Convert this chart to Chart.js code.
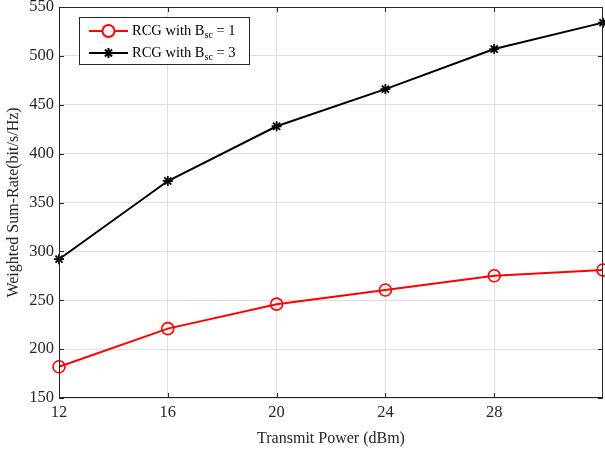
<!DOCTYPE html>
<html>
<head>
<meta charset="utf-8">
<script src="https://cdn.jsdelivr.net/npm/chart.js@4.4.1/dist/chart.umd.min.js"></script>
<style>
  html, body { margin: 0; padding: 0; background: #fff; }
  #wrap { width: 605px; height: 452px; }
</style>
</head>
<body>
<div id="wrap"><canvas id="rateChart" width="605" height="452"></canvas></div>
<script>
const powers = [12, 16, 20, 24, 28, 32];
const rateB1 = [182, 221, 246, 260.5, 275, 281];
const rateB3 = [292, 372, 428, 466, 507, 534];
const xTicks = [12, 16, 20, 24, 28];
const legendNames = ["RCG with B", "RCG with B"];
const legendSubs = ["sc", "sc"];
const legendTails = [" = 1", " = 3"];

const FONT = "'Liberation Serif', 'Times New Roman', serif";

// box, inward ticks and in-plot legend (MATLAB look)
const matlabFrame = {
  id: "matlabFrame",
  afterDraw(chart) {
    const { ctx, chartArea: a, scales } = chart;
    ctx.save();
    ctx.strokeStyle = "#262626";
    ctx.lineWidth = 1;
    ctx.strokeRect(a.left + 0.5, a.top + 0.5, a.right - a.left - 1, a.bottom - a.top - 1);
    const len = 5;
    ctx.beginPath();
    scales.x.ticks.forEach(t => {
      const px = Math.round(scales.x.getPixelForValue(t.value)) + 0.5;
      ctx.moveTo(px, a.bottom); ctx.lineTo(px, a.bottom - len);
      ctx.moveTo(px, a.top); ctx.lineTo(px, a.top + len);
    });
    scales.y.ticks.forEach(t => {
      const py = Math.round(scales.y.getPixelForValue(t.value)) + 0.5;
      ctx.moveTo(a.left, py); ctx.lineTo(a.left + len, py);
      ctx.moveTo(a.right, py); ctx.lineTo(a.right - len, py);
    });
    ctx.stroke();

    // legend
    const bx = a.left + 20, by = a.top + 10, bw = 170, bh = 47;
    ctx.fillStyle = "#fff";
    ctx.fillRect(bx, by, bw, bh);
    ctx.strokeStyle = "#262626";
    ctx.strokeRect(bx + 0.5, by + 0.5, bw, bh);
    chart.data.datasets.forEach((ds, i) => {
      const cy = by + 14 + i * 22;
      const x0 = bx + 10, x1 = bx + 49;
      ctx.strokeStyle = ds.borderColor;
      ctx.lineWidth = 2;
      ctx.beginPath(); ctx.moveTo(x0, cy); ctx.lineTo(x1, cy); ctx.stroke();
      Chart.helpers.drawPoint(ctx, {
        pointStyle: ds.pointStyle, radius: ds.pointRadius, borderWidth: ds.pointBorderWidth
      }, (x0 + x1) / 2, cy);
      ctx.fillStyle = "#000";
      ctx.textBaseline = "middle";
      ctx.font = "14.5px " + FONT;
      let tx = x1 + 4;
      ctx.fillText(legendNames[i], tx, cy);
      tx += ctx.measureText(legendNames[i]).width;
      ctx.font = "10px " + FONT;
      ctx.fillText(legendSubs[i], tx, cy + 4);
      tx += ctx.measureText(legendSubs[i]).width;
      ctx.font = "14.5px " + FONT;
      ctx.fillText(legendTails[i], tx, cy);
    });
    ctx.restore();
  }
};

const ctx = document.getElementById("rateChart");
new Chart(ctx, {
  type: "line",
  data: {
    datasets: [
      {
        label: "RCG with Bsc = 1",
        data: powers.map((p, i) => ({ x: p, y: rateB1[i] })),
        borderColor: "#ff0000",
        backgroundColor: "rgba(0,0,0,0)",
        borderWidth: 2,
        pointStyle: "circle",
        pointRadius: 6,
        pointBorderWidth: 1.6,
        pointBorderColor: "#ff0000",
        pointBackgroundColor: "rgba(0,0,0,0)",
        tension: 0,
        clip: 8
      },
      {
        label: "RCG with Bsc = 3",
        data: powers.map((p, i) => ({ x: p, y: rateB3[i] })),
        borderColor: "#000000",
        backgroundColor: "rgba(0,0,0,0)",
        borderWidth: 2,
        pointStyle: "star",
        pointRadius: 5,
        pointBorderWidth: 1.8,
        pointBorderColor: "#000000",
        pointBackgroundColor: "#000000",
        tension: 0,
        clip: 8
      }
    ]
  },
  options: {
    responsive: false,
    animation: false,
    layout: { autoPadding: false, padding: { top: 7, right: 2, left: 0, bottom: 0 } },
    plugins: {
      legend: { display: false },
      tooltip: { enabled: false }
    },
    scales: {
      x: {
        type: "linear",
        min: 12,
        max: 32,
        afterBuildTicks: axis => { axis.ticks = xTicks.map(v => ({ value: v })); },
        afterFit: axis => { axis.height = 54; axis.paddingLeft = 0; axis.paddingRight = 0; },
        grid: { color: "#dedede", drawTicks: false },
        border: { display: false },
        ticks: { color: "#262626", font: { family: FONT, size: 16.5 }, padding: 5 },
        title: { display: true, text: "Transmit Power (dBm)", color: "#262626", font: { family: FONT, size: 16 }, padding: { top: 2 } }
      },
      y: {
        min: 150,
        max: 550,
        afterFit: axis => { axis.width = 59; axis.paddingTop = 0; axis.paddingBottom = 0; },
        ticks: { stepSize: 50, color: "#262626", font: { family: FONT, size: 16.5 }, padding: 5 },
        grid: { color: "#dedede", drawTicks: false },
        border: { display: false },
        title: { display: true, text: "Weighted Sum-Rate(bit/s/Hz)", color: "#262626", font: { family: FONT, size: 16 }, padding: { bottom: 2 } }
      }
    }
  },
  plugins: [matlabFrame]
});
</script>
</body>
</html>
